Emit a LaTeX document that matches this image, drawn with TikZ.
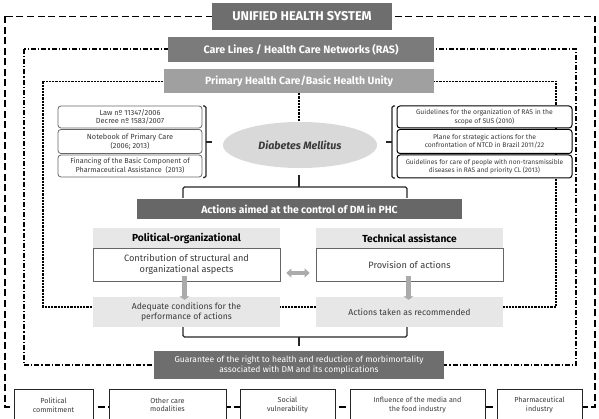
\documentclass[tikz,border=0pt]{standalone}
\usepackage{fontspec}
\setmainfont{Fira Sans}
\usetikzlibrary{arrows.meta,shapes.geometric,calc}
\definecolor{titlegray}{HTML}{6E6E6E}
\definecolor{caregray}{HTML}{7B7B7B}
\definecolor{primgray}{HTML}{A0A0A0}
\definecolor{actgray}{HTML}{676767}
\definecolor{lightfill}{HTML}{E7E7E7}
\definecolor{ellfill}{HTML}{D9D9D9}
\definecolor{txtgray}{HTML}{3A3A3A}
\definecolor{arrgray}{HTML}{ABABAB}
\begin{document}
\begin{tikzpicture}[x=1pt,y=-1pt,
  darkbar/.style={draw=none,text=white,font=\bfseries,inner sep=0pt},
  refbox/.style={draw=#1,rounded corners=3pt,fill=white,line width=0.8pt,text=txtgray,align=center,inner sep=0pt,font=\fontsize{6.8}{8.4}\selectfont},
  hdr/.style={fill=lightfill,draw=none,text=black,font=\fontsize{10.2}{12}\selectfont\bfseries,inner sep=0pt},
  wbox/.style={fill=white,draw=gray!80!black,line width=0.7pt,text=txtgray,align=center,inner sep=0pt,font=\fontsize{9.2}{11}\selectfont},
  lbox/.style={fill=lightfill,draw=none,text=txtgray,align=center,inner sep=0pt,font=\fontsize{8.6}{10}\selectfont},
  botbox/.style={fill=white,draw=black!85,line width=0.8pt,text=txtgray,align=center,inner sep=0pt,font=\fontsize{7.2}{8.6}\selectfont},
  outerdash/.style={line width=1.8pt,dash pattern=on 7pt off 3.5pt},
  dashdot/.style={line width=1.6pt,dash pattern=on 5pt off 2pt on 1.2pt off 2pt},
  innerdash/.style={line width=1.6pt,dash pattern=on 2.2pt off 1pt},
  bracket/.style={line width=1.1pt,black!85,rounded corners=1.5pt},
  fatarrow/.style={arrgray,line width=3.2pt,{Triangle[length=5pt,width=9pt]}-{Triangle[length=5pt,width=9pt]}},
  downarrow/.style={arrgray,line width=4.5pt,-{Triangle[length=3.5pt,width=10pt]}}
]
\useasboundingbox (0,0) rectangle (599,419);
\clip (0,0) rectangle (599,419);
\fill[white] (0,0) rectangle (599,419);

% frames
\draw[outerdash] (5,16.5) rectangle (595,407);
\draw[dashdot] (24,49) rectangle (576,365);
\draw[innerdash] (43,81.5) rectangle (556,307);

% top bars
\node[darkbar,fill=titlegray,minimum width=180pt,minimum height=27pt,font=\fontsize{12.7}{14}\selectfont\bfseries] (ush) at (302,16.5) {UNIFIED HEALTH SYSTEM};
\node[darkbar,fill=caregray,minimum width=266pt,minimum height=25pt,font=\fontsize{10.7}{12}\selectfont\bfseries] (care) at (301,49.5) {Care Lines / Health Care Networks (RAS)};
\node[darkbar,fill=primgray,minimum width=270pt,minimum height=24pt,font=\fontsize{10.5}{12}\selectfont\bfseries] (phc) at (299,81) {Primary Health Care/Basic Health Unity};

% ellipse
\node[ellipse,fill=ellfill,draw=none,minimum width=154pt,minimum height=46pt,inner sep=0pt,text=txtgray,font=\fontsize{10.7}{12}\selectfont\bfseries\itshape] (dm) at (300,145) {Diabetes Mellitus};
\draw[innerdash] (phc.south) -- (phc.south |- dm.north);

% left references
\node[refbox=black!60,minimum width=144pt,minimum height=22pt,font=\fontsize{7.4}{8.6}\selectfont] (l1) at (130,117) {Law nº 11347/2006\\Decree nº 1583/2007};
\node[refbox=black!60,minimum width=144pt,minimum height=24pt,font=\fontsize{7.4}{8.6}\selectfont] (l2) at (130,141.5) {Notebook of Primary Care\\(2006; 2013)};
\node[refbox=black!60,minimum width=144pt,minimum height=22pt,font=\fontsize{7.2}{8.6}\selectfont] (l3) at (130,166) {Financing of the Basic Component of\\Pharmaceutical Assistance\ \ (2013)};

% right references
\node[refbox=black,line width=1pt,minimum width=175pt,minimum height=22pt] (r1) at (484.5,117) {Guidelines for the organization of RAS in the\\scope of SUS (2010)};
\node[refbox=black,line width=1pt,minimum width=175pt,minimum height=24pt] (r2) at (484.5,141.5) {Plane for strategic actions for the\\confrontation of NTCD in Brazil 2011/22};
\node[refbox=black,line width=1pt,minimum width=175pt,minimum height=23pt,font=\fontsize{6.6}{8.4}\selectfont] (r3) at (484.5,166.5) {Guidelines for care of people with non-transmissible\\diseases in RAS and priority CL (2013)};

% brackets around references
\coordinate (lbt) at (206,106);
\coordinate (lbb) at (206,177.5);
\coordinate (lbm) at (206,142);
\coordinate (lbtip) at (212,142);
\draw[bracket] (203,106) -- (lbt) -- (lbb) -- (203,177.5);
\draw[bracket] (lbm) -- (lbtip);
\coordinate (rbt) at (392,106);
\coordinate (rbb) at (392,178);
\coordinate (rbm) at (392,142);
\coordinate (rbtip) at (386,142);
\draw[bracket] (395,106) -- (rbt) -- (rbb) -- (395,178);
\draw[bracket] (rbm) -- (rbtip);

% actions bar
\node[darkbar,fill=actgray,minimum width=325pt,minimum height=20pt,font=\fontsize{10.4}{12}\selectfont\bfseries] (act) at (299.5,209) {Actions aimed at the control of DM in PHC};

% brace from ellipse to actions
\coordinate (b1top) at (299,175);
\coordinate (b1mid) at (299,187);
\coordinate (b1l) at (183,198);
\coordinate (b1r) at (407,198);
\draw[bracket] (b1top) -- (b1mid);
\draw[bracket] (b1l) -- (183,187) -- (407,187) -- (b1r);

% two columns
\node[hdr,minimum width=187pt,minimum height=20pt] (polh) at (186.5,238) {Political-organizational};
\node[wbox,minimum width=187pt,minimum height=33pt] (contrib) at (186.5,264.5) {Contribution of structural and\\organizational aspects};
\node[hdr,minimum width=187pt,minimum height=20pt] (tech) at (409.5,238) {Technical assistance};
\node[wbox,minimum width=187pt,minimum height=33pt] (prov) at (409.5,264.5) {Provision of actions};

\draw[fatarrow] ([xshift=6pt,yshift=-8.5pt]contrib.east) -- ([xshift=-6pt,yshift=-8.5pt]prov.west);

\node[lbox,minimum width=187pt,minimum height=30pt] (adeq) at (186.5,312) {Adequate conditions for the\\performance of actions};
\node[lbox,minimum width=187pt,minimum height=30pt] (taken) at (409.5,312) {Actions taken as recommended};

\draw[downarrow] ([xshift=-2pt,yshift=5.5pt]contrib.south) -- ([xshift=-2pt,yshift=-3pt]adeq.north);
\draw[downarrow] ([xshift=-1pt,yshift=5.5pt]prov.south) -- ([xshift=-1pt,yshift=-3pt]taken.north);

% brace to guarantee
\coordinate (b2l) at (183,327);
\coordinate (b2r) at (407,327);
\coordinate (b2mid) at (299,337);
\coordinate (b2bot) at (299,346);
\draw[bracket] (b2l) -- (183,337) -- (407,337) -- (b2r);
\draw[bracket] (b2mid) -- (b2bot);

\node[darkbar,fill=titlegray,minimum width=290pt,minimum height=28pt,align=center,font=\fontsize{8.5}{10.5}\selectfont] (guar) at (299,365) {Guarantee of the right to health and reduction of morbimortality\\associated with DM and its complications};

% bottom factors
\node[botbox,minimum width=79pt,minimum height=32pt] (f1) at (53.5,405) {Political\\commitment};
\node[botbox,minimum width=117pt,minimum height=32pt] (f2) at (167.5,405) {Other care\\modalities};
\node[botbox,minimum width=95pt,minimum height=32pt] (f3) at (287.5,405) {Social\\vulnerability};
\node[botbox,minimum width=135pt,minimum height=32pt] (f4) at (417.5,405) {Influence of the media and\\the food industry};
\node[botbox,minimum width=85pt,minimum height=32pt] (f5) at (539.5,405) {Pharmaceutical\\industry};
\end{tikzpicture}
\end{document}
